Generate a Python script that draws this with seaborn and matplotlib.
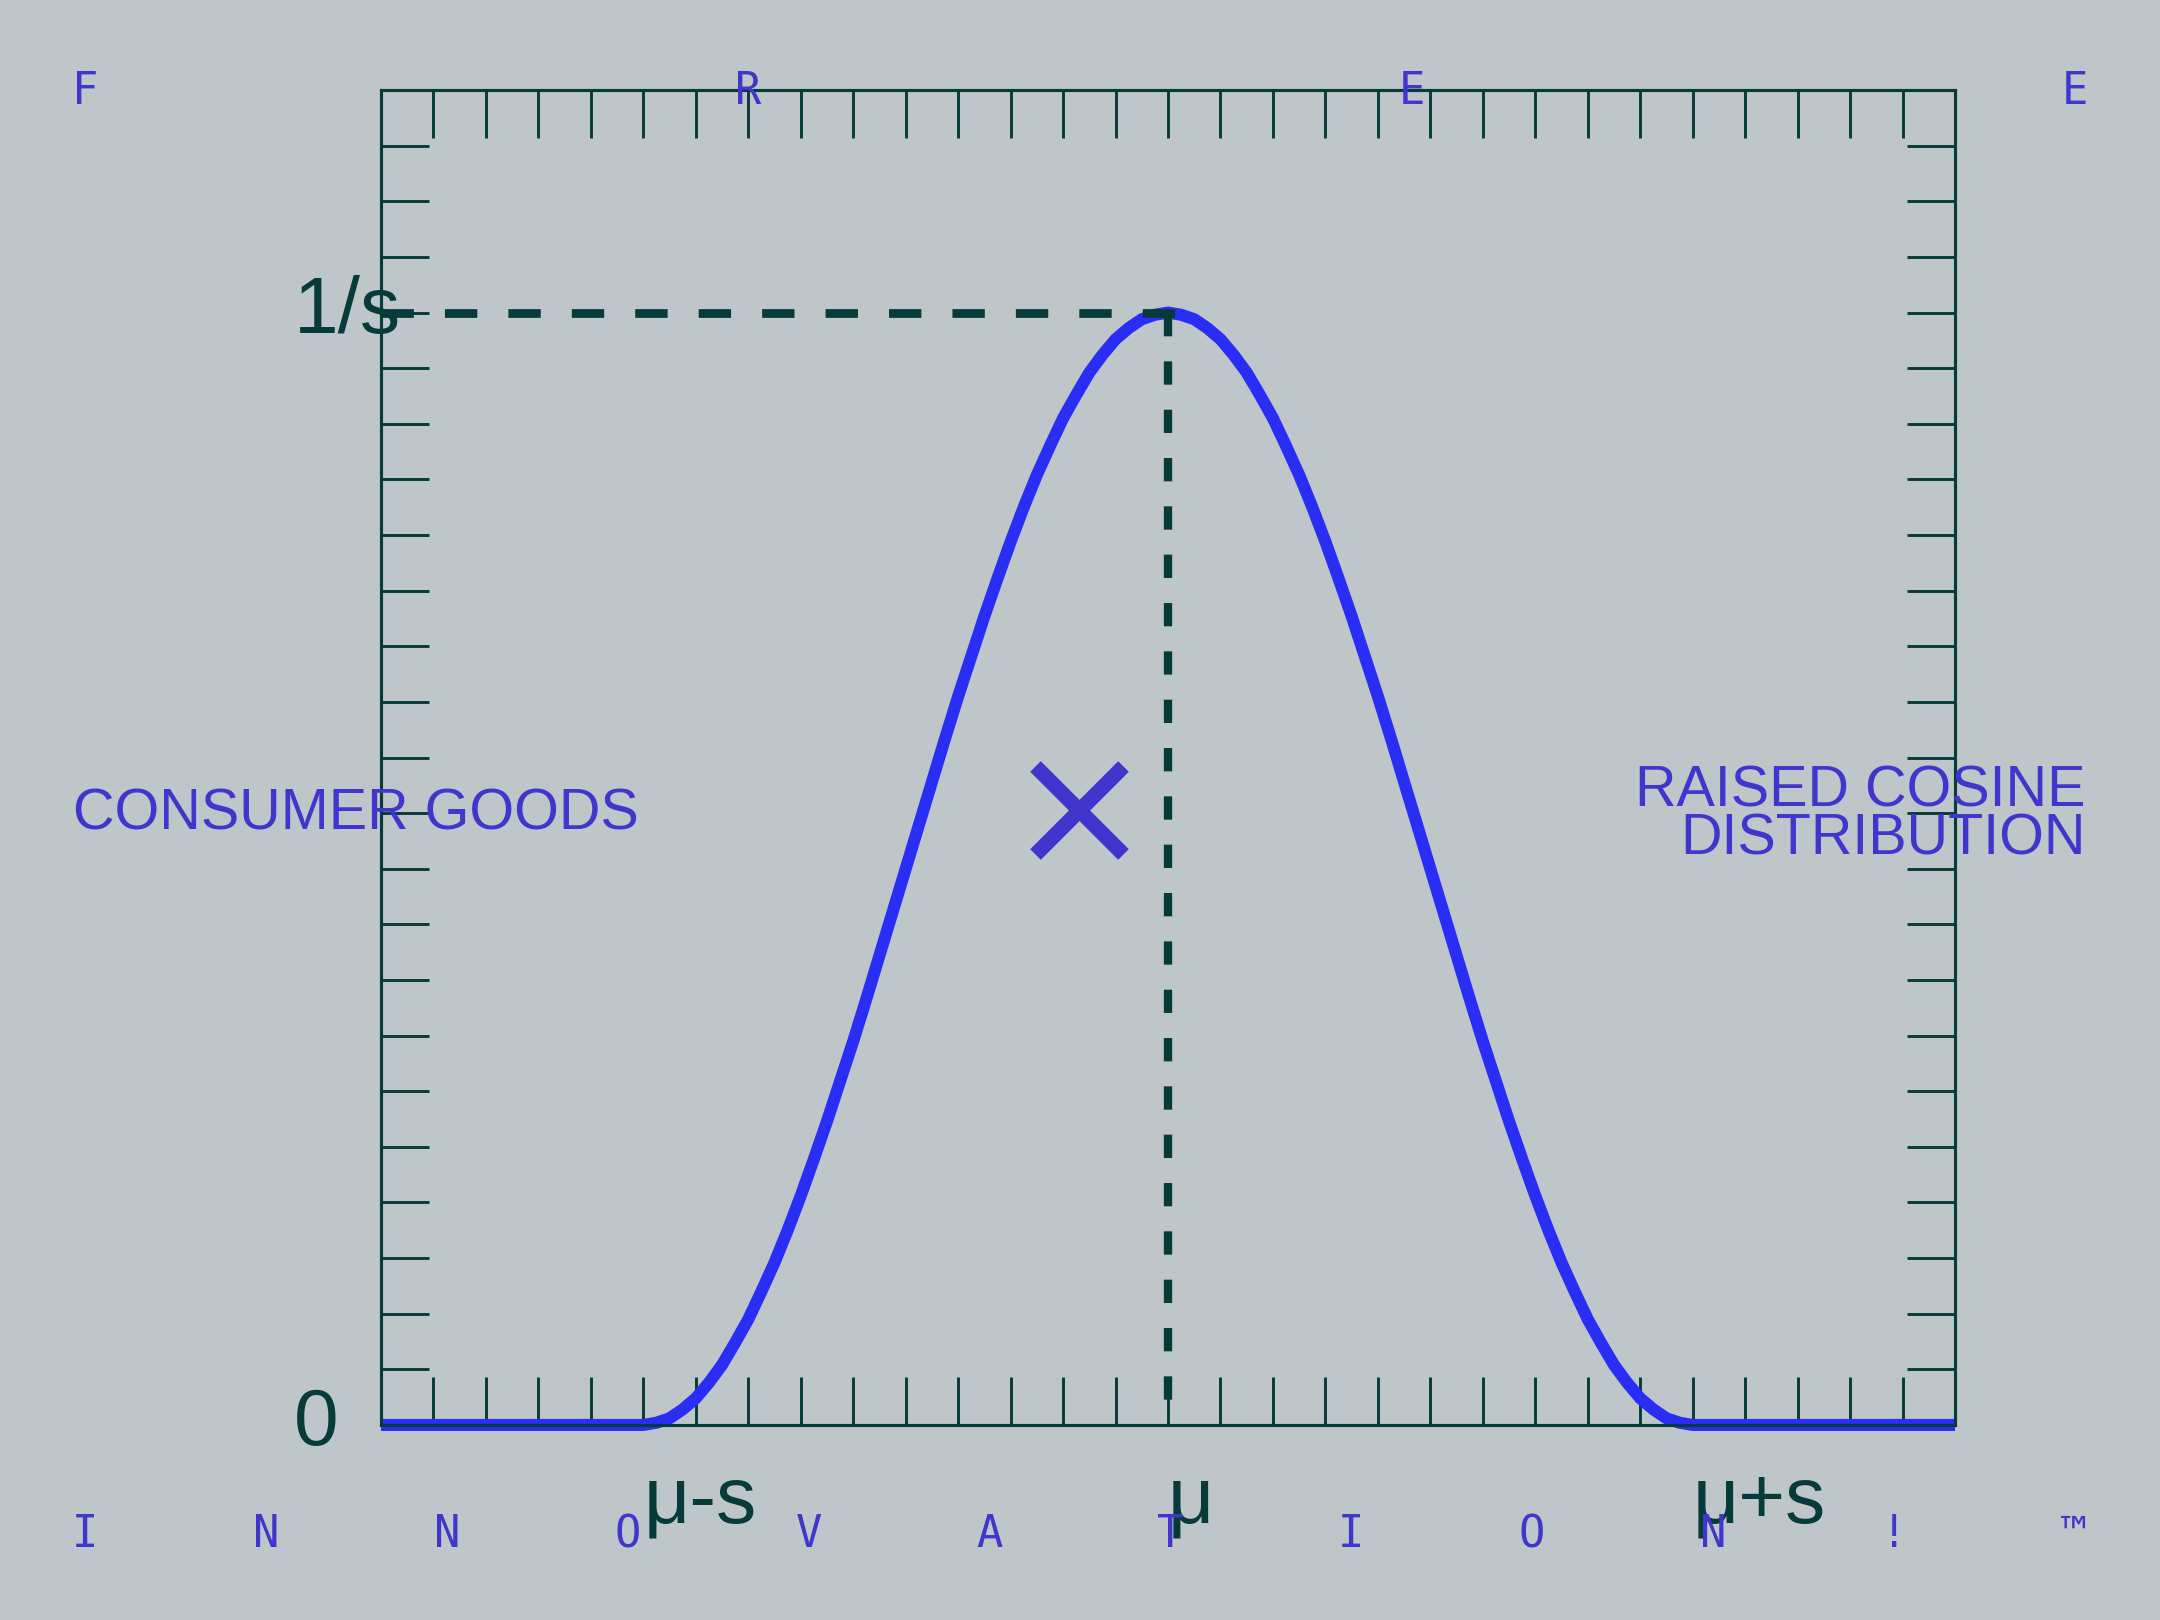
import numpy as np
import pandas as pd
import matplotlib
matplotlib.use("Agg")
import matplotlib.pyplot as plt
import seaborn as sns
from matplotlib.ticker import MultipleLocator

# curve: x in units of s around mu, y in units of 1/s
curve_x = [-1.5, -1.0, -0.975, -0.95, -0.925, -0.9, -0.875, -0.85, -0.825, -0.8,
           -0.775, -0.75, -0.725, -0.7, -0.675, -0.65, -0.625, -0.6, -0.575, -0.55,
           -0.525, -0.5, -0.475, -0.45, -0.425, -0.4, -0.375, -0.35, -0.325, -0.3,
           -0.275, -0.25, -0.225, -0.2, -0.175, -0.15, -0.125, -0.1, -0.075, -0.05,
           -0.025, 0.0,
           0.025, 0.05, 0.075, 0.1, 0.125, 0.15, 0.175, 0.2, 0.225, 0.25,
           0.275, 0.3, 0.325, 0.35, 0.375, 0.4, 0.425, 0.45, 0.475, 0.5,
           0.525, 0.55, 0.575, 0.6, 0.625, 0.65, 0.675, 0.7, 0.725, 0.75,
           0.775, 0.8, 0.825, 0.85, 0.875, 0.9, 0.925, 0.95, 0.975, 1.0, 1.5]
curve_y = [0.0, 0.0, 0.002, 0.006, 0.014, 0.024, 0.038, 0.054, 0.074, 0.095,
           0.120, 0.146, 0.175, 0.206, 0.239, 0.273, 0.309, 0.345, 0.383, 0.422,
           0.461, 0.5, 0.539, 0.578, 0.617, 0.655, 0.691, 0.727, 0.761, 0.794,
           0.825, 0.854, 0.880, 0.905, 0.926, 0.946, 0.962, 0.976, 0.986, 0.994,
           0.998, 1.0,
           0.998, 0.994, 0.986, 0.976, 0.962, 0.946, 0.926, 0.905, 0.880, 0.854,
           0.825, 0.794, 0.761, 0.727, 0.691, 0.655, 0.617, 0.578, 0.539, 0.5,
           0.461, 0.422, 0.383, 0.345, 0.309, 0.273, 0.239, 0.206, 0.175, 0.146,
           0.120, 0.095, 0.074, 0.054, 0.038, 0.024, 0.014, 0.006, 0.002, 0.0, 0.0]

peak_x = 0.0
peak_y = 1.0
cross_x = -0.17
cross_y = 0.553

xtick_pos = [-1, 0, 1]
xtick_labels = ["μ-s", "μ", "μ+s"]
ytick_pos = [0, 1]
ytick_labels = ["0", "1/s"]

top_letters = list("FREE")
bottom_letters = list("INNOVATION!™")
left_text = "CONSUMER GOODS"
right_text = "RAISED COSINE\nDISTRIBUTION"

BG = "#bec6ca"
TEAL = "#073b3a"
BLUE = "#2a2ef5"
VIOLET = "#4035cc"

sns.set_theme(style="ticks")
plt.rcParams["font.family"] = ["Liberation Sans", "DejaVu Sans"]

fig = plt.figure(figsize=(7.2, 5.4), dpi=300, facecolor=BG)
ax = fig.add_axes([0.1764, 0.1204, 0.7287, 0.824])
ax.set_facecolor(BG)

df = pd.DataFrame({"x": curve_x, "y": curve_y})
sns.lineplot(data=df, x="x", y="y", sort=False, estimator=None, ax=ax,
             color=BLUE, linewidth=2.9, clip_on=False, solid_capstyle="butt",
             solid_joinstyle="round", zorder=2)

# dashed guides to the peak
ax.plot([-1.5, peak_x + 0.02], [peak_y, peak_y], color=TEAL, lw=2.1,
        dashes=(3.7, 3.55), dash_capstyle="butt", zorder=3)
ax.plot([peak_x, peak_x], [peak_y, 0], color=TEAL, lw=2.0,
        dashes=(2.8, 3.0), dash_capstyle="butt", zorder=3)

ax.plot([cross_x], [cross_y], marker="x", markersize=21, markeredgewidth=3.6,
        color=VIOLET, linestyle="none", zorder=4)

ax.set_xlim(-1.5, 1.5)
ax.set_ylim(0, 1.2)
ax.set_xlabel("")
ax.set_ylabel("")

ax.set_xticks(xtick_pos)
ax.set_xticklabels(xtick_labels)
ax.set_yticks(ytick_pos)
ax.set_yticklabels(ytick_labels)
ax.xaxis.set_minor_locator(MultipleLocator(0.1))
ax.yaxis.set_minor_locator(MultipleLocator(0.05))

ax.tick_params(which="both", direction="in", length=11.6, width=0.7,
               color=TEAL, top=True, right=True, labelcolor=TEAL,
               labelsize=19.3)
ax.tick_params(axis="x", which="major", pad=9.5)
ax.tick_params(axis="y", which="major", pad=21)
for lab in ax.get_xticklabels():
    lab.set_ha("left")
for lab in ax.get_yticklabels():
    lab.set_ha("left")
    lab.set_va("center")

for sp in ax.spines.values():
    sp.set_visible(True)
    sp.set_color(TEAL)
    sp.set_linewidth(0.75)

fig.text(0.034, 0.497, left_text, color=VIOLET, fontsize=13.8,
         ha="left", va="center")
fig.text(0.9655, 0.4965, right_text, color=VIOLET, fontsize=13.8,
         ha="right", va="center", multialignment="right", linespacing=0.86)

mono = ["DejaVu Sans Mono"]
for x, ch in zip(np.linspace(0.0394, 0.9605, len(top_letters)), top_letters):
    fig.text(x, 0.9435, ch, color=VIOLET, fontsize=10.5, family=mono,
             ha="center", va="center")
for x, ch in zip(np.linspace(0.0394, 0.9605, len(bottom_letters)), bottom_letters):
    fig.text(x, 0.0525, ch, color=VIOLET, fontsize=10.5, family=mono,
             ha="center", va="center")

fig.savefig("out.png", dpi=300, facecolor=BG)
